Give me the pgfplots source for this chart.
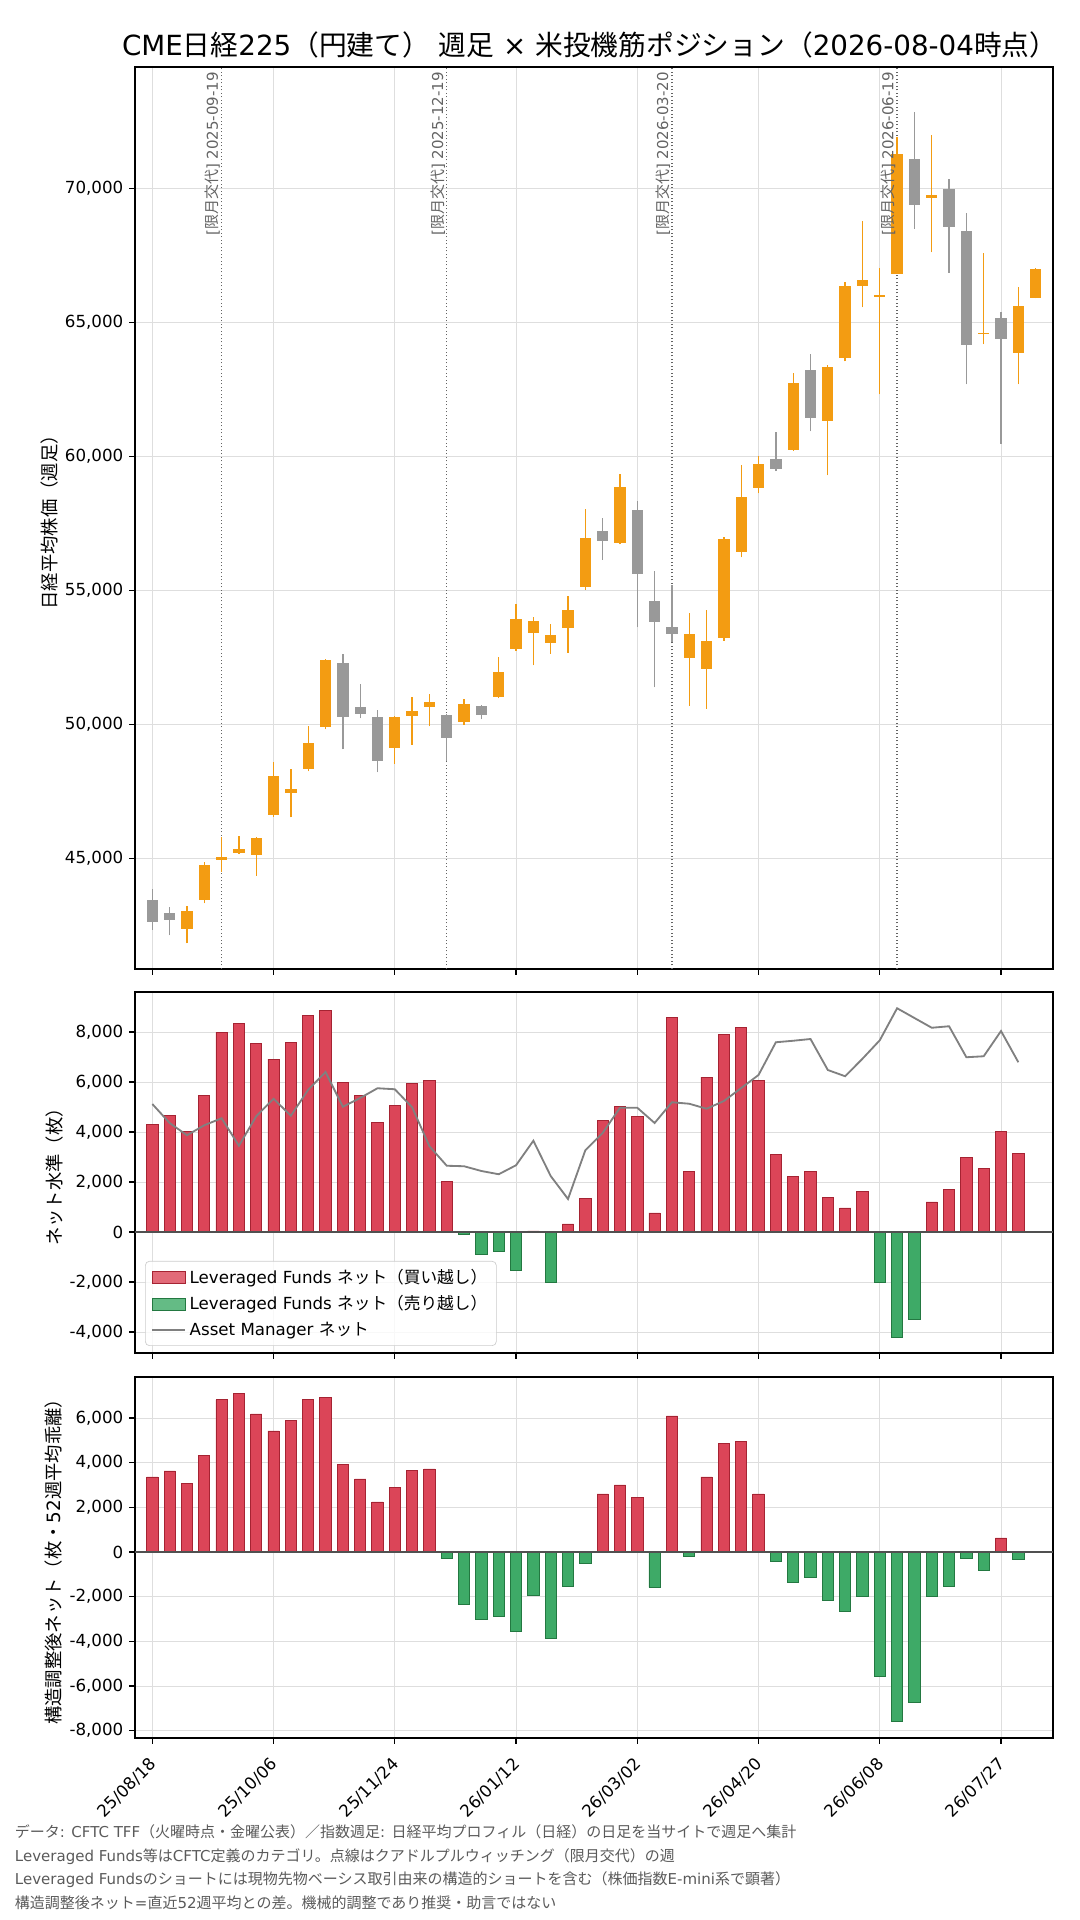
\documentclass[border=0pt]{standalone}
\usepackage{fontspec}
\setmainfont{DejaVu Sans}
\newfontfamily\jp{Noto Sans CJK JP}
\usepackage{pgfplots}
\usepackage{pgfplotstable}
\pgfplotsset{compat=1.18}

\definecolor{cup}{RGB}{243,156,18}
\definecolor{cdn}{RGB}{153,153,153}
\definecolor{barred}{RGB}{219,69,88}
\definecolor{barrededge}{RGB}{165,35,50}
\definecolor{bargreen}{RGB}{62,170,103}
\definecolor{bargreenedge}{RGB}{35,120,65}
\definecolor{gridc}{RGB}{222,222,222}
\definecolor{amline}{RGB}{128,128,128}
\definecolor{rollc}{RGB}{100,100,100}
\definecolor{footc}{RGB}{90,90,90}
\definecolor{zeroc}{RGB}{80,80,80}

\pgfplotstableread{
i o h l c
2 42362 43208 41827 43034
3 43444 44875 43320 44750
4 44949 45808 44501 45049
5 45198 45820 45161 45347
6 45124 45783 44340 45758
7 46616 48582 46554 48072
8 47437 48321 46529 47587
9 48333 49925 48246 49303
10 49913 52420 49813 52401
14 49129 50311 48520 50274
15 50323 51008 49229 50498
16 50659 51120 49925 50833
18 50100 50933 49975 50759
20 51019 52500 50969 51952
21 52811 54478 52736 53930
22 53420 54017 52201 53855
23 53047 53731 52624 53333
24 53607 54776 52661 54266
25 55137 58023 55012 56953
27 56779 59329 56717 58856
31 52475 54167 50683 53370
32 52064 54254 50571 53109
33 53221 57003 53122 56916
34 56431 59677 56232 58483
35 58832 60001 58620 59715
37 60235 63097 60200 62736
39 61318 63420 59290 63333
40 63669 66493 63545 66356
41 66356 68782 65560 66580
42 65958 67040 62313 66020
43 66816 71929 66800 71282
45 69653 71979 67612 69752
48 64565 67575 64179 64602
50 63868 66306 62686 65610
51 65921 67015 65896 66990
}\upc

\pgfplotstableread{
i o h l c
0 43444 43842 42325 42636
1 42959 43170 42125 42698
11 52289 52612 49067 50286
12 50647 51493 50224 50398
13 50274 50547 48209 48644
17 50348 50373 48644 49502
19 50683 50708 50186 50347
26 57214 57687 56132 56854
28 57998 58346 53619 55622
29 54602 55734 51380 53831
30 53632 55187 53084 53383
36 59900 60895 59450 59526
38 63221 63806 60932 61430
44 71096 72837 68483 69391
46 69976 70362 66841 68570
47 68409 69068 62686 64167
49 65162 65386 60459 64390
}\dnc

\pgfplotsset{
  panel/.style={
    scale only axis, width=550.8pt,
    xmin=-1, xmax=52,
    xtick={0,7,14,21,28,35,42,49},
    scaled y ticks=false, scaled x ticks=false,
    grid=major, major grid style={gridc, line width=0.5pt},
    tick align=outside, major tick length=3.5pt,
    tick style={black, line width=0.8pt},
    tick pos=left,
    axis line style={line width=0.8pt},
    tick label style={font=\fontsize{10}{12}\selectfont},
    clip=true,
  },
  candle/.style n args={2}{forget plot, draw=none, mark=none,
    error bars/.cd, y dir=plus, y explicit, error mark=none,
    error bar style={draw=#1, line width=#2}},
}

\begin{document}
\begin{tikzpicture}
\path[use as bounding box] (0,0) rectangle (648pt,1152pt);

% ---------------- top panel: candles ----------------
\begin{axis}[panel, name=top, at={(81pt,570.6pt)}, anchor=south west, height=541.2pt,
  ymin=40869, ymax=74526,
  ytick={45000,50000,55000,60000,65000,70000},
  yticklabels={{45,000},{50,000},{55,000},{60,000},{65,000},{70,000}},
  xticklabels={},
  ylabel={\jp 日経平均株価（週足）},
  every axis y label/.style={at={(axis description cs:-0.0931,0.5)}, rotate=90, anchor=center, font=\fontsize{11}{13}\selectfont},
]
\addplot[forget plot, rollc, line width=0.8pt, dash pattern=on 0.8pt off 1.3pt] coordinates {(4,40869) (4,74526)};
\addplot[forget plot, rollc, line width=0.8pt, dash pattern=on 0.8pt off 1.3pt] coordinates {(17,40869) (17,74526)};
\addplot[forget plot, rollc, line width=0.8pt, dash pattern=on 0.8pt off 1.3pt] coordinates {(30,40869) (30,74526)};
\addplot[forget plot, rollc, line width=0.8pt, dash pattern=on 0.8pt off 1.3pt] coordinates {(43,40869) (43,74526)};
% wicks
\addplot[candle={cup}{0.8pt}] table[x=i, y=l, y error plus expr=\thisrow{h}-\thisrow{l}] {\upc};
\addplot[candle={cdn}{0.8pt}] table[x=i, y=l, y error plus expr=\thisrow{h}-\thisrow{l}] {\dnc};
% bodies
\addplot[candle={cup}{6.8pt}] table[x=i, y=o, y error plus expr=\thisrow{c}-\thisrow{o}] {\upc};
\addplot[candle={cdn}{6.8pt}] table[x=i, y=c, y error plus expr=\thisrow{o}-\thisrow{c}] {\dnc};
% roll labels
\node[rotate=90, anchor=south east, inner sep=0pt, text=rollc, font=\fontsize{9}{11}\selectfont] at (axis cs:3.92,74350) {[{\jp 限月交代}] 2025-09-19};
\node[rotate=90, anchor=south east, inner sep=0pt, text=rollc, font=\fontsize{9}{11}\selectfont] at (axis cs:16.92,74350) {[{\jp 限月交代}] 2025-12-19};
\node[rotate=90, anchor=south east, inner sep=0pt, text=rollc, font=\fontsize{9}{11}\selectfont] at (axis cs:29.92,74350) {[{\jp 限月交代}] 2026-03-20};
\node[rotate=90, anchor=south east, inner sep=0pt, text=rollc, font=\fontsize{9}{11}\selectfont] at (axis cs:42.92,74350) {[{\jp 限月交代}] 2026-06-19};
\end{axis}

% ---------------- middle panel: net level ----------------
\begin{axis}[panel, name=mid, at={(81pt,340.2pt)}, anchor=south west, height=216.6pt,
  ymin=-4840, ymax=9600,
  ytick={-4000,-2000,0,2000,4000,6000,8000},
  yticklabels={{-4,000},{-2,000},{0},{2,000},{4,000},{6,000},{8,000}},
  xticklabels={},
  ylabel={\jp ネット水準（枚）},
  every axis y label/.style={at={(axis description cs:-0.0882,0.5)}, rotate=90, anchor=center, font=\fontsize{11}{13}\selectfont},
  legend cell align=left,
  legend style={at={(axis description cs:0.0109,0.0194)}, anchor=south west,
    font=\fontsize{10}{12}\selectfont, draw={rgb,255:red,204;green,204;blue,204}, fill=white, fill opacity=0.8, text opacity=1,
    rounded corners=2.5pt, inner xsep=3.5pt, inner ysep=2.5pt, row sep=2pt,
    nodes={inner sep=2pt}},
]
\addplot[ybar, bar width=0.65, bar shift=0pt, fill=barred, draw=barrededge, line width=0.5pt,
  legend image code/.code={\draw[sharp corners, fill=barred, draw=barrededge, line width=0.5pt] (0pt,-3.6pt) rectangle (20pt,3.6pt);}]
coordinates {(0,4320) (1,4650) (2,4030) (3,5480) (4,8000) (5,8360) (6,7560) (7,6920) (8,7600) (9,8680) (10,8880) (11,6000) (12,5450) (13,4400) (14,5080) (15,5960) (16,6080) (17,2040) (22,40) (24,320) (25,1360) (26,4480) (27,5040) (28,4640) (29,760) (30,8600) (31,2440) (32,6200) (33,7920) (34,8200) (35,6080) (36,3120) (37,2240) (38,2440) (39,1400) (40,960) (41,1640) (45,1200) (46,1720) (47,3000) (48,2560) (49,4040) (50,3160)};
\addlegendentry{Leveraged Funds {\jp ネット（買い越し）}}
\addplot[ybar, bar width=0.65, bar shift=0pt, fill=bargreen, draw=bargreenedge, line width=0.5pt,
  legend image code/.code={\draw[sharp corners, fill=bargreen, draw=bargreenedge, line width=0.5pt] (0pt,-3.6pt) rectangle (20pt,3.6pt);}]
coordinates {(18,-80) (19,-880) (20,-760) (21,-1520) (23,-2000) (42,-2000) (43,-4200) (44,-3480)};
\addlegendentry{Leveraged Funds {\jp ネット（売り越し）}}
\addplot[forget plot, zeroc, line width=0.8pt] coordinates {(-1,0) (52,0)};
\addplot[amline, line width=1.1pt, mark=none,
  legend image code/.code={\draw[sharp corners, amline, line width=1.1pt] (0pt,0pt) -- (20pt,0pt);}]
coordinates {(0,5120) (1,4360) (2,3870) (3,4270) (4,4550) (5,3450) (6,4630) (7,5330) (8,4650) (9,5690) (10,6400) (11,5010) (12,5360) (13,5750) (14,5710) (15,4990) (16,3430) (17,2650) (18,2630) (19,2440) (20,2310) (21,2670) (22,3650) (23,2240) (24,1320) (25,3270) (26,3960) (27,4970) (28,4970) (29,4360) (30,5190) (31,5130) (32,4930) (33,5240) (34,5760) (35,6280) (36,7590) (37,7650) (38,7720) (39,6480) (40,6230) (41,6930) (42,7670) (43,8950) (44,8560) (45,8170) (46,8230) (47,6990) (48,7030) (49,8040) (50,6790)};
\addlegendentry{Asset Manager {\jp ネット}}
\end{axis}

% ---------------- bottom panel: adjusted net ----------------
\begin{axis}[panel, name=bot, at={(81pt,109.2pt)}, anchor=south west, height=216.6pt,
  ymin=-8328, ymax=7836,
  ytick={-8000,-6000,-4000,-2000,0,2000,4000,6000},
  yticklabels={{-8,000},{-6,000},{-4,000},{-2,000},{0},{2,000},{4,000},{6,000}},
  xticklabels={25/08/18,25/10/06,25/11/24,26/01/12,26/03/02,26/04/20,26/06/08,26/07/27},
  xticklabel style={xshift=-2.4pt, yshift=-6pt, rotate=45, anchor=north east, inner sep=1pt},
  ylabel={{\jp 構造調整後ネット（枚・}52{\jp 週平均乖離）}},
  every axis y label/.style={at={(axis description cs:-0.0888,0.5)}, rotate=90, anchor=center, font=\fontsize{11}{13}\selectfont},
]
\addplot[ybar, bar width=0.65, bar shift=0pt, fill=barred, draw=barrededge, line width=0.5pt]
coordinates {(0,3360) (1,3630) (2,3050) (3,4340) (4,6810) (5,7080) (6,6180) (7,5420) (8,5910) (9,6850) (10,6900) (11,3900) (12,3270) (13,2240) (14,2870) (15,3670) (16,3720) (26,2600) (27,3000) (28,2460) (30,6090) (32,3360) (33,4840) (34,4930) (35,2600) (49,630)};
\addplot[ybar, bar width=0.65, bar shift=0pt, fill=bargreen, draw=bargreenedge, line width=0.5pt]
coordinates {(17,-270) (18,-2330) (19,-3010) (20,-2880) (21,-3550) (22,-1930) (23,-3850) (24,-1540) (25,-490) (29,-1580) (31,-190) (36,-400) (37,-1340) (38,-1120) (39,-2190) (40,-2640) (41,-1970) (42,-5550) (43,-7570) (44,-6720) (45,-2010) (46,-1520) (47,-270) (48,-810) (50,-310)};
\addplot[zeroc, line width=0.8pt] coordinates {(-1,0) (52,0)};
\end{axis}

% title
\node[anchor=base, inner sep=0pt, font=\fontsize{16.65}{20}\selectfont] at (353.8pt,1118.4pt)
  {CME{\jp 日経}225{\jp （円建て）} {\jp 週足} × {\jp 米投機筋ポジション（}2026-08-04{\jp 時点）}};

% footer
\begin{scope}[every node/.style={anchor=base west, inner sep=0pt, text=footc, font=\fontsize{9}{11}\selectfont}]
\node at (8.8pt,49.2pt) {{\jp データ}: CFTC TFF{\jp （火曜時点・金曜公表）／指数週足}: {\jp 日経平均プロフィル（日経）の日足を当サイトで週足へ集計}};
\node at (8.8pt,35.2pt) {Leveraged Funds{\jp 等は}CFTC{\jp 定義のカテゴリ。点線はクアドルプルウィッチング（限月交代）の週}};
\node at (8.8pt,21.2pt) {Leveraged Funds{\jp のショートには現物先物ベーシス取引由来の構造的ショートを含む（株価指数}E-mini{\jp 系で顕著）}};
\node at (8.8pt,7.2pt) {{\jp 構造調整後ネット}={\jp 直近}52{\jp 週平均との差。機械的調整であり推奨・助言ではない}};
\end{scope}
\end{tikzpicture}
\end{document}
